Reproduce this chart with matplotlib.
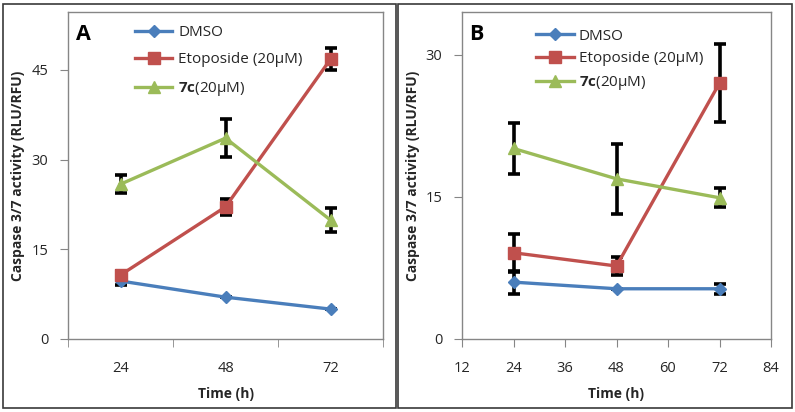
"""Caspase 3/7 activity over time, two panels (A, B)."""
import matplotlib
matplotlib.use('Agg')
import matplotlib.pyplot as plt
from matplotlib.patches import Rectangle

plt.rcParams['font.family'] = ['Open Sans', 'DejaVu Sans']
plt.rcParams['mathtext.fontset'] = 'custom'
plt.rcParams['mathtext.bf'] = 'Open Sans:bold'
plt.rcParams['mathtext.rm'] = 'Open Sans'

# data
time_labels = ['24', '48', '72']
time_b = [24, 48, 72]
series_names = ['DMSO', 'Etoposide (20\u00b5M)', r'$\mathbf{7c}$' + '(20\u00b5M)']

# panel A
dmso_a = [9.7, 7.0, 5.0]
dmso_a_err = [0.6, 0.0, 0.0]
etop_a = [10.7, 22.1, 46.8]
etop_a_err = [0.6, 1.4, 1.8]
c7_a = [25.9, 33.6, 19.9]
c7_a_err = [1.5, 3.2, 2.0]

# panel B
dmso_b = [6.0, 5.3, 5.3]
dmso_b_err = [1.2, 0.0, 0.5]
etop_b = [9.1, 7.7, 27.0]
etop_b_err = [2.0, 1.0, 4.1]
c7_b = [20.1, 16.9, 14.9]
c7_b_err = [2.7, 3.7, 1.0]

colors = ['#4A7EBB', '#C0504D', '#9BBB59']
markers = ['D', 's', '^']
msizes = [6.5, 9, 9]
axis_gray = '#868686'
text_col = '#262626'

fig = plt.figure(figsize=(7.95, 4.12), dpi=100)

# outer boxes around each panel
for x0, x1 in [(3, 396), (398, 792)]:
    fig.patches.append(Rectangle((x0 / 795, 4 / 412), (x1 - x0) / 795, 404 / 412,
                                 transform=fig.transFigure, fill=False,
                                 edgecolor='#3a3a3a', linewidth=1.2))

ax_a = fig.add_axes([68 / 795, 73 / 412, 315 / 795, 327 / 412])
ax_b = fig.add_axes([462 / 795, 73 / 412, 309 / 795, 327 / 412])

xa = [0, 1, 2]
panel_a = [(dmso_a, dmso_a_err), (etop_a, etop_a_err), (c7_a, c7_a_err)]
panel_b = [(dmso_b, dmso_b_err), (etop_b, etop_b_err), (c7_b, c7_b_err)]

for ax, xs, panel in [(ax_a, xa, panel_a), (ax_b, time_b, panel_b)]:
    for (vals, errs), c, m, ms, name in zip(panel, colors, markers, msizes, series_names):
        ax.errorbar(xs, vals, yerr=errs, fmt='none', ecolor='black',
                    elinewidth=2.6, capsize=4, capthick=2.6, zorder=3)
        ax.plot(xs, vals, color=c, marker=m, markersize=ms, linewidth=2.4,
                label=name, zorder=4)
    for sp in ax.spines.values():
        sp.set_color(axis_gray)
        sp.set_linewidth(1.0)
    ax.tick_params(axis='both', colors=axis_gray, labelcolor=text_col,
                   labelsize=10.5, length=6, direction='out')
    ax.tick_params(axis='y', pad=8)
    ax.tick_params(axis='x', pad=10)
    ax.set_xlabel('Time (h)', fontsize=10, fontweight='bold', color=text_col)
    ax.set_ylabel('Caspase 3/7 activity (RLU/RFU)', fontsize=10,
                  fontweight='bold', color=text_col)
    ax.xaxis.set_label_coords(0.5, -0.148)
    ax.yaxis.set_label_coords(-0.137, 0.5)

# panel A: category axis
ax_a.set_xlim(-0.5, 2.5)
ax_a.set_ylim(0, 54.7)
ax_a.set_yticks([0, 15, 30, 45])
ax_a.set_xticks(xa)
ax_a.set_xticklabels(time_labels)
ax_a.tick_params(axis='x', which='major', length=0, pad=16)
ax_a.set_xticks([-0.5, 0.5, 1.5, 2.5], minor=True)
ax_a.tick_params(axis='x', which='minor', colors=axis_gray, length=6)

# panel B: value axis
ax_b.set_xlim(12, 84)
ax_b.set_ylim(0, 34.5)
ax_b.set_yticks([0, 15, 30])
ax_b.set_xticks([12, 24, 36, 48, 60, 72, 84])

ax_a.text(0.025, 0.962, 'A', transform=ax_a.transAxes, fontsize=15.5,
          fontweight='bold', va='top', ha='left', color='black')
ax_b.text(0.023, 0.962, 'B', transform=ax_b.transAxes, fontsize=15.5,
          fontweight='bold', va='top', ha='left', color='black')

ax_a.legend(loc='upper left', bbox_to_anchor=(0.19, 0.984), frameon=False,
            fontsize=11, handlelength=2.4, handletextpad=0.4, labelspacing=0.82,
            borderpad=0, labelcolor=text_col)
ax_b.legend(loc='upper left', bbox_to_anchor=(0.215, 0.972), frameon=False,
            fontsize=11, handlelength=2.5, handletextpad=0.3, labelspacing=0.5,
            borderpad=0, labelcolor=text_col)

fig.savefig('out.png', dpi=100)
